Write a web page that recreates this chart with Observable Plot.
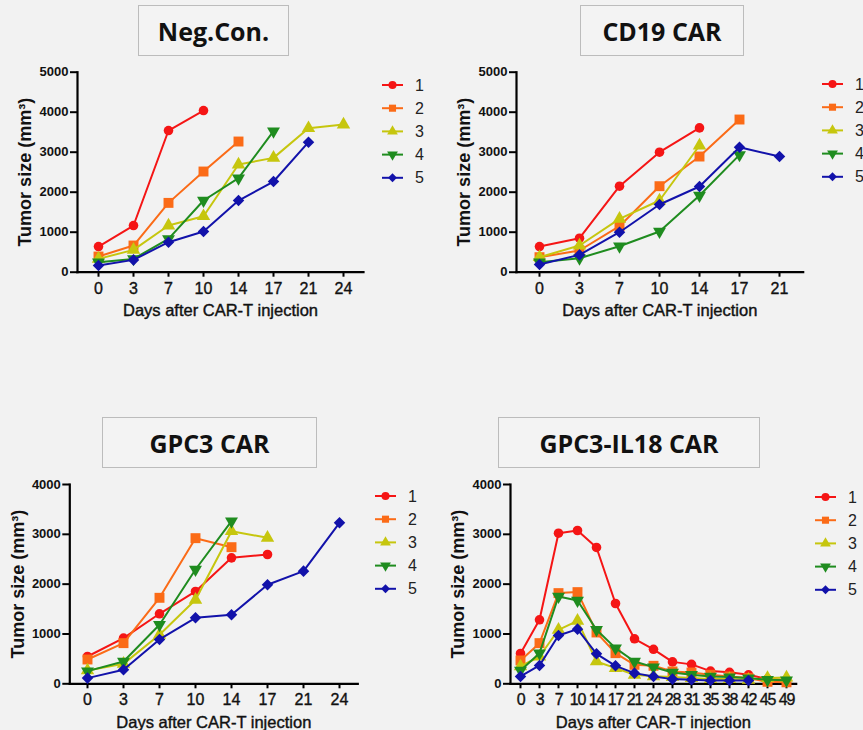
<!DOCTYPE html>
<html><head><meta charset="utf-8">
<script src="https://cdn.jsdelivr.net/npm/d3@7"></script>
<script src="https://cdn.jsdelivr.net/npm/@observablehq/plot@0.6"></script>
<style>
html,body{margin:0;padding:0;background:#f2f2f2;}
#root{position:relative;width:863px;height:730px;background:#f2f2f2;overflow:hidden;font-family:"Liberation Sans",Arimo,Arial,sans-serif;}
.panel{position:absolute;}
.title{position:absolute;box-sizing:border-box;border:1px solid #bcbcbc;background:#f3f3f3;display:flex;align-items:center;justify-content:center;font-family:"Open Sans",sans-serif;font-weight:700;font-size:25px;color:#111;}
.legend{position:absolute;overflow:visible;}
g[aria-label="y-axis tick label"] text{font:bold 13px "Liberation Sans",Arimo,Arial,sans-serif;fill:#111;}
g[aria-label="x-axis tick label"] text{font:16px "Liberation Sans",Arimo,Arial,sans-serif;fill:#111;stroke:#111;stroke-width:0.35px;}
.dense g[aria-label="x-axis tick label"] text{letter-spacing:-1.2px;}
g[aria-label="y-axis label"] text{font:bold 18px "Liberation Sans",Arimo,Arial,sans-serif;fill:#111;}
g[aria-label="x-axis label"] text{font:16.5px "Liberation Sans",Arimo,Arial,sans-serif;fill:#111;stroke:#111;stroke-width:0.4px;}
</style>
</head><body>
<div id="root"></div>
<script>
// ---- series definitions ----
const seriesNames = ["1", "2", "3", "4", "5"];
const seriesColors = ["#f51515", "#fb6b17", "#c6c60e", "#1f8c1f", "#1212aa"];
const seriesSymbols = ["circle", "square", "triangle", "triangle", "diamond2"];
const seriesRotate = [0, 0, 0, 180, 0];
const seriesRadius = [4.8, 5.6, 5.0, 4.8, 5.2];

// ---- Neg.Con. ----
const negDays = [0, 3, 7, 10, 14, 17, 21, 24];
const neg1 = [642, 1167, 3542, 4042, null, null, null, null];
const neg2 = [392, 667, 1733, 2517, 3267, null, null, null];
const neg3 = [333, 558, 1167, 1400, 2692, 2858, 3600, 3692];
const neg4 = [250, 333, 833, 1792, 2350, 3525, null, null];
const neg5 = [167, 308, 750, 1017, 1792, 2267, 3250, null];

// ---- CD19 CAR ----
const cd19Days = [0, 3, 7, 10, 14, 17, 21];
const cd19_1 = [642, 850, 2150, 3000, 3608, null, null];
const cd19_2 = [375, 542, 1150, 2150, 2892, 3817, null];
const cd19_3 = [375, 667, 1333, 1792, 3167, null, null];
const cd19_4 = [250, 350, 650, 1017, 1917, 2933, null];
const cd19_5 = [192, 433, 1000, 1692, 2142, 3125, 2892];

// ---- GPC3 CAR ----
const gpcDays = [0, 3, 7, 10, 14, 17, 21, 24];
const gpc1 = [548, 916, 1405, 1853, 2528, 2595, null, null];
const gpc2 = [488, 816, 1726, 2923, 2742, null, null, null];
const gpc3 = [268, 400, 983, 1686, 3063, 2930, null, null];
const gpc4 = [254, 448, 1184, 2294, 3264, null, null, null];
const gpc5 = [114, 281, 890, 1324, 1385, 1987, 2261, 3231];

// ---- GPC3-IL18 CAR ----
const il18Days = [0, 3, 7, 10, 14, 17, 21, 24, 28, 31, 35, 38, 42, 45, 49];
const il18_1 = [608, 1285, 3023, 3077, 2736, 1612, 903, 692, 440, 390, 255, 230, 180, 95, 75];
const il18_2 = [468, 816, 1820, 1840, 1030, 615, 381, 361, 248, 227, 181, 147, 114, 40, 30];
const il18_3 = [348, 548, 1084, 1264, 448, 314, 181, 150, 134, 114, 94, 94, 80, 114, 125];
const il18_4 = [268, 615, 1753, 1673, 1084, 716, 448, 334, 227, 181, 147, 134, 114, 80, 70];
const il18_5 = [147, 368, 970, 1097, 602, 361, 214, 147, 94, 80, 67, 67, 67, null, null];

const yTicks5000 = [0, 1000, 2000, 3000, 4000, 5000];
const yTicks4000 = [0, 1000, 2000, 3000, 4000];

const panels = [
  {title: "Neg.Con.", days: negDays, series: [neg1, neg2, neg3, neg4, neg5], yMax: 5000, yTicks: yTicks5000,
   box: {left: 0, top: 60, width: 430, height: 265}, m: {l: 77, r: 67, t: 11.7, b: 53.3},
   tbox: {left: 138, top: 5, width: 151, height: 51}, leg: {x: 382, y: 85}},
  {title: "CD19 CAR", days: cd19Days, series: [cd19_1, cd19_2, cd19_3, cd19_4, cd19_5], yMax: 5000, yTicks: yTicks5000,
   box: {left: 430, top: 60, width: 433, height: 265}, m: {l: 86, r: 60.3, t: 11.7, b: 53.3},
   tbox: {left: 580, top: 5, width: 164, height: 51}, leg: {x: 822, y: 84}},
  {title: "GPC3 CAR", days: gpcDays, series: [gpc1, gpc2, gpc3, gpc4, gpc5], yMax: 4000, yTicks: yTicks4000,
   box: {left: 0, top: 470, width: 430, height: 260}, m: {l: 69.3, r: 72.7, t: 14, b: 46.7},
   tbox: {left: 102, top: 417, width: 215, height: 51}, leg: {x: 375, y: 496}},
  {title: "GPC3-IL18 CAR", days: il18Days, series: [il18_1, il18_2, il18_3, il18_4, il18_5], yMax: 4000, yTicks: yTicks4000,
   box: {left: 430, top: 470, width: 433, height: 260}, m: {l: 80, r: 67.3, t: 14, b: 46.7}, dense: true,
   tbox: {left: 498, top: 417, width: 262, height: 51}, leg: {x: 815, y: 496.5}}
];

const root = document.getElementById("root");
const symbolMap = {circle: d3.symbolCircle, square: d3.symbolSquare, triangle: d3.symbolTriangle, diamond2: d3.symbolDiamond2};

function seriesData(days, vals, i) {
  const out = [];
  vals.forEach((v, j) => { if (v != null) out.push({day: String(days[j]), value: v, series: seriesNames[i]}); });
  return out;
}

for (const p of panels) {
  const seriesMarks = p.series.flatMap((vals, i) => {
    const d = seriesData(p.days, vals, i);
    return [
      Plot.line(d, {x: "day", y: "value", stroke: seriesColors[i], strokeWidth: 2}),
      Plot.dot(d, {x: "day", y: "value", fill: seriesColors[i], symbol: seriesSymbols[i], r: seriesRadius[i], rotate: seriesRotate[i]})
    ];
  });
  const chart = Plot.plot({
    width: p.box.width, height: p.box.height,
    marginLeft: p.m.l, marginRight: p.m.r, marginTop: p.m.t, marginBottom: p.m.b,
    style: {background: "transparent", overflow: "visible", fontFamily: "Liberation Sans, Arimo, Arial, sans-serif"},
    x: {type: "point", domain: p.days.map(String), padding: 0.5, axis: null},
    y: {domain: [0, p.yMax], axis: null},
    marks: [
      Plot.frame({anchor: "left", strokeWidth: 2.2, stroke: "#000"}),
      Plot.frame({anchor: "bottom", strokeWidth: 2.2, stroke: "#000"}),
      Plot.axisY({ticks: p.yTicks, tickFormat: d3.format("d"), tickSize: 7, tickPadding: 2, strokeWidth: 2,
                  label: "Tumor size (mm³)", labelAnchor: "center", labelArrow: "none", labelOffset: 59}),
      Plot.axisX({tickSize: 5, tickPadding: 5, strokeWidth: 2,
                  label: "Days after CAR-T injection", labelAnchor: "center", labelArrow: "none", labelOffset: 44}),
      ...seriesMarks
    ]
  });
  const div = document.createElement("div");
  div.className = "panel" + (p.dense ? " dense" : "");
  Object.assign(div.style, {left: p.box.left + "px", top: p.box.top + "px", width: p.box.width + "px", height: p.box.height + "px"});
  div.appendChild(chart);
  root.appendChild(div);

  const t = document.createElement("div");
  t.className = "title";
  t.textContent = p.title;
  Object.assign(t.style, {left: p.tbox.left + "px", top: p.tbox.top + "px", width: p.tbox.width + "px", height: p.tbox.height + "px"});
  root.appendChild(t);

  // legend
  const leg = d3.select(root).append("svg").attr("class", "legend")
    .style("left", p.leg.x + "px").style("top", (p.leg.y - 12) + "px")
    .attr("width", 60).attr("height", 130);
  seriesNames.forEach((name, i) => {
    const g = leg.append("g").attr("transform", `translate(0,${12 + i * 23.2})`);
    g.append("line").attr("x1", 0).attr("x2", 21).attr("y1", 0).attr("y2", 0)
      .attr("stroke", seriesColors[i]).attr("stroke-width", 2);
    g.append("path").attr("d", d3.symbol(symbolMap[seriesSymbols[i]], Math.PI * 16)())
      .attr("transform", `translate(10.5,0) rotate(${seriesRotate[i]})`).attr("fill", seriesColors[i]);
    g.append("text").attr("x", 33).attr("y", 0).attr("dy", "0.35em")
      .style("font", "16px 'Liberation Sans', Arimo, Arial, sans-serif").attr("fill", "#222").text(name);
  });
}
</script>
</body></html>
